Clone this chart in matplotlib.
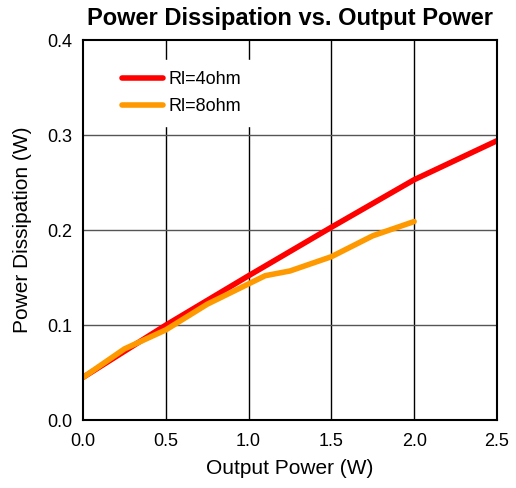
import numpy as np
import matplotlib
matplotlib.use("Agg")
import matplotlib.pyplot as plt

plt.rcParams['font.family'] = ['Liberation Sans', 'DejaVu Sans']

# data
out_4ohm = [0.0, 0.5, 1.0, 1.5, 2.0, 2.5]
diss_4ohm = [0.045, 0.100, 0.152, 0.203, 0.253, 0.294]

out_8ohm = [0.0, 0.25, 0.5, 0.75, 1.1, 1.25, 1.5, 1.75, 2.0]
diss_8ohm = [0.045, 0.075, 0.095, 0.122, 0.152, 0.157, 0.172, 0.194, 0.209]

fig = plt.figure(figsize=(5.16, 4.88), dpi=100)
ax = fig.add_axes([0.161, 0.139, 0.802, 0.779])

#grid lines: vertical black, horizontal gray
for xv in [0.5, 1.0, 1.5, 2.0]:
    ax.axvline(xv, color="black", lw=1.0, zorder=1)
for yv in [0.1, 0.2, 0.3]:
    ax.axhline(yv, color="#555555", lw=1.0, zorder=1)

ax.plot(out_4ohm, diss_4ohm, color="#ff0000", lw=4, label="Rl=4ohm", zorder=3,
        solid_capstyle="round")
ax.plot(out_8ohm, diss_8ohm, color="#ff9900", lw=4, label="Rl=8ohm", zorder=3,
        solid_capstyle="round")

ax.set_xlim(0, 2.5)
ax.set_ylim(0, 0.4)
ax.set_xticks([0.0, 0.5, 1.0, 1.5, 2.0, 2.5])
ax.set_yticks([0.0, 0.1, 0.2, 0.3, 0.4])
ax.set_xticklabels(["0.0", "0.5", "1.0", "1.5", "2.0", "2.5"])
ax.set_yticklabels(["0.0", "0.1", "0.2", "0.3", "0.4"])
ax.tick_params(labelsize=13, length=0)
ax.tick_params(axis="x", pad=9)
ax.tick_params(axis="y", pad=8)

for s in ax.spines.values():
    s.set_linewidth(1.5)
    s.set_zorder(4)

ax.set_xlabel("Output Power (W)", fontsize=15, labelpad=7)
ax.set_ylabel("Power Dissipation (W)", fontsize=15, labelpad=11)
ax.set_title("Power Dissipation vs. Output Power", fontsize=17, fontweight="bold", pad=11)

leg = ax.legend(loc="upper left", bbox_to_anchor=(0.045, 0.97), frameon=True,
                fancybox=False, edgecolor="white", framealpha=1, fontsize=13,
                handlelength=2.3, handletextpad=0.3, borderpad=0.6, labelspacing=0.55)
leg.set_zorder(5)

fig.savefig("out.png", dpi=100)
